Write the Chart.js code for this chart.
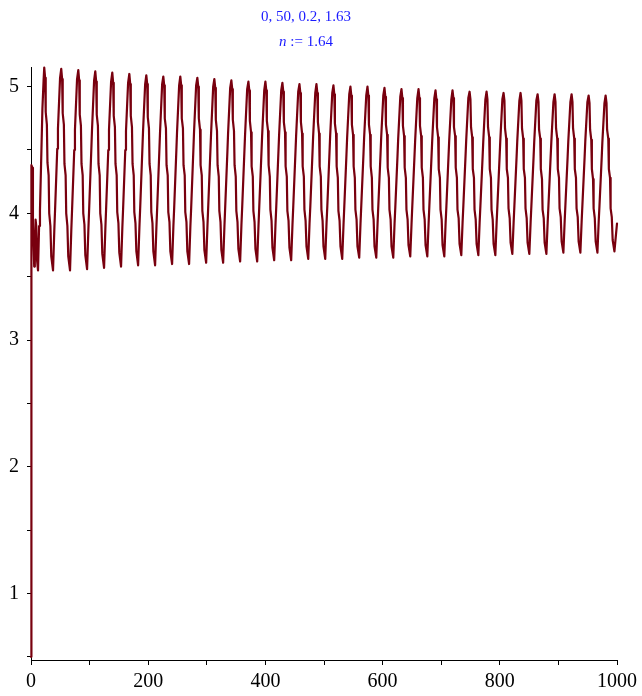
<!DOCTYPE html>
<html>
<head>
<meta charset="utf-8">
<script src="https://cdn.jsdelivr.net/npm/chart.js@4.4.0/dist/chart.umd.min.js"></script>
<style>
  html, body { margin: 0; padding: 0; background: #fff; }
  #wrap { position: relative; width: 642px; height: 696px; }
  #plot { position: absolute; left: 0; top: 0; }
  .title {
    position: absolute; left: 0; width: 612px; text-align: center;
    font-family: "Liberation Serif", "Times New Roman", serif;
    font-size: 15px; line-height: 18px; color: #1a1aff;
  }
</style>
</head>
<body>
<div id="wrap">
  <canvas id="plot" width="642" height="696"></canvas>
  <div class="title" style="top:7px">0, 50, 0.2, 1.63</div>
  <div class="title" style="top:32px"><i>n</i> := 1.64</div>
</div>
<script>
// start of the run, before the first peak
const startT = [0, 0.4, 1.0, 2.5, 3.3, 5.5, 6.5, 7.8, 9.0, 10.5, 12.0, 13.8, 15.3, 19.5, 21.5];
const startY = [0.50, 2.75, 4.38, 4.36, 3.93, 3.58, 3.60, 3.95, 3.90, 3.62, 3.55, 3.90, 4.02, 4.83, 5.05];

// time of each peak
const peakTimes = [22.6, 51.6, 80.7, 109.7, 138.7, 167.8, 196.8, 225.8, 254.8, 283.9,
  312.9, 341.9, 371.0, 400.0, 429.0, 458.1, 487.1, 516.1, 545.1, 574.2,
  603.2, 632.2, 661.3, 690.3, 719.3, 748.4, 777.4, 806.4, 835.4, 864.5,
  893.5, 922.5, 951.6, 980.6];

// where the step corners sit inside one cycle, counted from its peak
const cycleOffsets = [0, 1.5, 2.5, 4.5, 5.5, 7.5, 8.5, 10.5, 12.0, 15.0, 17.2, 18.5, 22.2, 23.4, 27.0];

// values at those corners, one row per cycle
const cycleValues = [
  [5.15, 5.07, 4.80, 4.70, 4.40, 4.30, 4.00, 3.90, 3.66, 3.55, 3.87, 4.03, 4.51, 4.67, 5.07],
  [5.14, 5.06, 4.79, 4.70, 4.39, 4.30, 4.00, 3.90, 3.66, 3.55, 3.87, 4.03, 4.50, 4.66, 5.06],
  [5.13, 5.05, 4.78, 4.69, 4.39, 4.30, 4.00, 3.91, 3.67, 3.56, 3.87, 4.03, 4.50, 4.66, 5.05],
  [5.12, 5.04, 4.78, 4.69, 4.39, 4.30, 4.00, 3.91, 3.68, 3.57, 3.88, 4.04, 4.50, 4.66, 5.04],
  [5.11, 5.03, 4.77, 4.68, 4.39, 4.30, 4.01, 3.92, 3.69, 3.58, 3.89, 4.04, 4.50, 4.65, 5.03],
  [5.10, 5.02, 4.77, 4.68, 4.39, 4.30, 4.01, 3.92, 3.70, 3.59, 3.89, 4.04, 4.50, 4.65, 5.02],
  [5.09, 5.02, 4.76, 4.67, 4.39, 4.30, 4.01, 3.92, 3.70, 3.59, 3.89, 4.04, 4.49, 4.64, 5.02],
  [5.08, 5.01, 4.75, 4.67, 4.38, 4.30, 4.01, 3.93, 3.70, 3.60, 3.90, 4.04, 4.49, 4.64, 5.01],
  [5.08, 5.01, 4.75, 4.67, 4.38, 4.30, 4.01, 3.93, 3.70, 3.60, 3.90, 4.04, 4.49, 4.64, 5.01],
  [5.07, 5.00, 4.75, 4.66, 4.38, 4.30, 4.02, 3.93, 3.71, 3.61, 3.90, 4.05, 4.49, 4.63, 5.00],
  [5.06, 4.99, 4.74, 4.65, 4.38, 4.29, 4.02, 3.93, 3.71, 3.61, 3.90, 4.05, 4.48, 4.63, 4.99],
  [5.05, 4.98, 4.74, 4.65, 4.38, 4.29, 4.02, 3.93, 3.72, 3.62, 3.91, 4.05, 4.48, 4.62, 4.98],
  [5.04, 4.97, 4.73, 4.64, 4.37, 4.29, 4.02, 3.93, 3.72, 3.62, 3.90, 4.05, 4.47, 4.61, 4.97],
  [5.04, 4.97, 4.73, 4.65, 4.38, 4.29, 4.03, 3.94, 3.73, 3.63, 3.91, 4.05, 4.48, 4.62, 4.97],
  [5.03, 4.96, 4.72, 4.64, 4.37, 4.29, 4.02, 3.94, 3.73, 3.63, 3.91, 4.05, 4.47, 4.61, 4.96],
  [5.02, 4.95, 4.72, 4.63, 4.37, 4.29, 4.03, 3.94, 3.74, 3.64, 3.92, 4.05, 4.47, 4.61, 4.95],
  [5.02, 4.95, 4.72, 4.63, 4.37, 4.29, 4.03, 3.94, 3.74, 3.64, 3.92, 4.05, 4.47, 4.61, 4.95],
  [5.01, 4.94, 4.71, 4.63, 4.37, 4.28, 4.02, 3.94, 3.74, 3.64, 3.91, 4.05, 4.46, 4.60, 4.94],
  [5.00, 4.93, 4.70, 4.62, 4.37, 4.28, 4.03, 3.95, 3.74, 3.65, 3.92, 4.06, 4.46, 4.60, 4.93],
  [5.00, 4.93, 4.70, 4.62, 4.37, 4.28, 4.03, 3.95, 3.74, 3.65, 3.92, 4.06, 4.46, 4.60, 4.93],
  [4.99, 4.92, 4.70, 4.62, 4.36, 4.28, 4.03, 3.95, 3.74, 3.65, 3.92, 4.05, 4.45, 4.59, 4.92],
  [4.98, 4.91, 4.69, 4.61, 4.36, 4.28, 4.03, 3.95, 3.75, 3.66, 3.92, 4.06, 4.45, 4.58, 4.91],
  [4.98, 4.91, 4.69, 4.61, 4.36, 4.28, 4.03, 3.95, 3.75, 3.66, 3.92, 4.06, 4.45, 4.58, 4.91],
  [4.97, 4.90, 4.68, 4.60, 4.35, 4.28, 4.03, 3.95, 3.75, 3.66, 3.92, 4.05, 4.45, 4.58, 4.90],
  [4.97, 4.91, 4.68, 4.61, 4.36, 4.28, 4.03, 3.96, 3.76, 3.67, 3.93, 4.06, 4.45, 4.58, 4.91],
  [4.96, 4.90, 4.68, 4.60, 4.35, 4.28, 4.03, 3.95, 3.76, 3.67, 3.93, 4.06, 4.44, 4.57, 4.90],
  [4.96, 4.90, 4.68, 4.60, 4.35, 4.28, 4.03, 3.95, 3.76, 3.67, 3.93, 4.06, 4.44, 4.57, 4.90],
  [4.95, 4.89, 4.67, 4.59, 4.35, 4.28, 4.04, 3.96, 3.77, 3.68, 3.93, 4.06, 4.44, 4.57, 4.89],
  [4.95, 4.89, 4.67, 4.59, 4.35, 4.28, 4.04, 3.96, 3.77, 3.68, 3.93, 4.06, 4.44, 4.57, 4.89],
  [4.94, 4.88, 4.66, 4.59, 4.35, 4.27, 4.03, 3.96, 3.77, 3.68, 3.93, 4.06, 4.44, 4.56, 4.88],
  [4.94, 4.88, 4.67, 4.59, 4.35, 4.28, 4.04, 3.97, 3.78, 3.69, 3.94, 4.07, 4.44, 4.57, 4.88],
  [4.94, 4.88, 4.67, 4.59, 4.35, 4.28, 4.04, 3.97, 3.78, 3.69, 3.94, 4.07, 4.44, 4.57, 4.88],
  [4.93, 4.87, 4.66, 4.58, 4.35, 4.27, 4.04, 3.96, 3.78, 3.69, 3.94, 4.06, 4.43, 4.56, 4.87],
  [4.93, 4.87, 4.66, 4.59, 4.35, 4.28, 4.04, 3.97, 3.79, 3.70]
];

const endT = [1000];
const endY = [3.92];

const xTicks = [0, 200, 400, 600, 800, 1000];
const yTicks = [1, 2, 3, 4, 5];

const lineColor = "#78000e";
const serif = "'Liberation Serif', 'Times New Roman', serif";

let points = [];
startT.forEach((t, i) => points.push({ x: t, y: startY[i] }));
peakTimes.forEach((p, k) => {
  cycleValues[k].forEach((v, j) => points.push({ x: p + cycleOffsets[j], y: v }));
});
endT.forEach((t, i) => points.push({ x: t, y: endY[i] }));

const ctx = document.getElementById("plot").getContext("2d");
new Chart(ctx, {
  type: "line",
  data: {
    datasets: [
      {
        data: points,
        borderColor: lineColor,
        borderWidth: 2.2,
        borderJoinStyle: "round",
        borderCapStyle: "round",
        pointRadius: 0,
        tension: 0,
        fill: false,
        clip: false,
      },
    ],
  },
  options: {
    responsive: false,
    animation: false,
    events: [],
    layout: { padding: { top: 67, right: 23, left: 0, bottom: 0 } },
    plugins: { legend: { display: false }, tooltip: { enabled: false } },
    scales: {
      x: {
        type: "linear",
        min: 0,
        max: 1000,
        afterFit: (s) => { s.height = 36; },
        ticks: {
          stepSize: 100,
          autoSkip: false,
          maxRotation: 0,
          padding: 5,
          color: "#000",
          font: { family: serif, size: 20 },
          callback: (v) => (xTicks.includes(v) ? v : ""),
        },
        grid: { drawOnChartArea: false, tickLength: 5, tickColor: "#000" },
        border: { color: "#000", width: 1 },
      },
      y: {
        min: 0.475,
        max: 5.155,
        afterFit: (s) => { s.width = 31; },
        ticks: {
          stepSize: 0.5,
          includeBounds: false,
          autoSkip: false,
          padding: 8,
          color: "#000",
          font: { family: serif, size: 20 },
          callback: (v) => (yTicks.includes(v) ? v : ""),
        },
        grid: { drawOnChartArea: false, tickLength: 4, tickColor: "#000" },
        border: { color: "#000", width: 1 },
      },
    },
  },
});
</script>
</body>
</html>
